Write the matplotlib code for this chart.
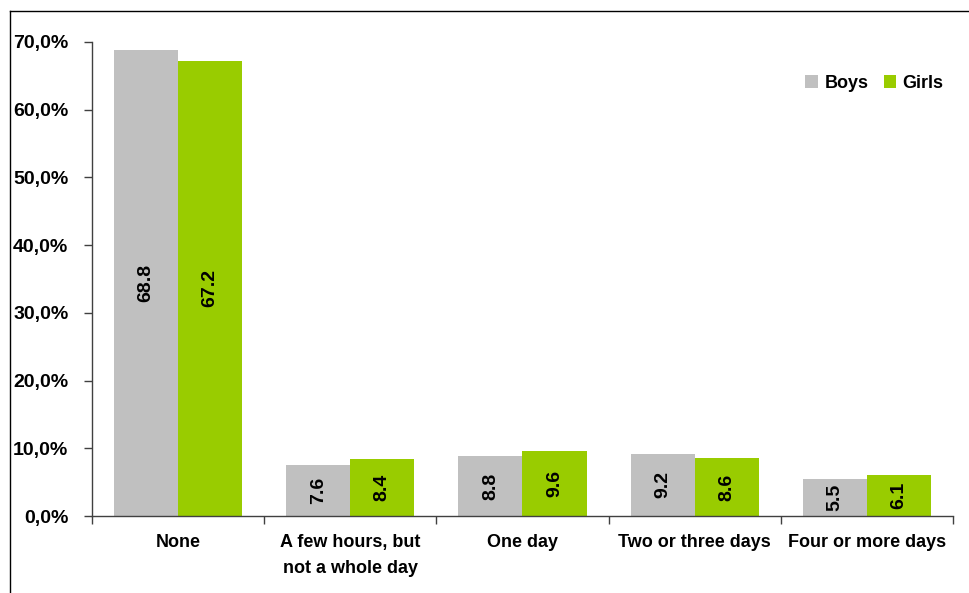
import numpy as np
import matplotlib.pyplot as plt
from matplotlib.lines import Line2D
from matplotlib.ticker import FixedLocator

plt.rcParams['font.family'] = ['Liberation Sans', 'DejaVu Sans']
plt.rcParams['font.weight'] = 'bold'

categories = ['None', 'A few hours, but\nnot a whole day', 'One day',
              'Two or three days', 'Four or more days']
boys = [68.8, 7.6, 8.8, 9.2, 5.5]
girls = [67.2, 8.4, 9.6, 8.6, 6.1]
series = ['Boys', 'Girls']
colors = ['#C0C0C0', '#99CC00']

fig = plt.figure(figsize=(9.69, 5.93), dpi=100)
ax = fig.add_axes([0.0949, 0.1298, 0.8886, 0.7994])

x = np.arange(len(categories))
w = 0.372
for vals, off, col, name in zip([boys, girls], [-w / 2, w / 2], colors, series):
    bars = ax.bar(x + off, vals, width=w, color=col, label=name)
    for b, v in zip(bars, vals):
        ax.text(b.get_x() + b.get_width() / 2, v / 2, f'{v:.1f}',
                rotation=90, ha='center', va='center',
                fontsize=14, fontweight='bold', color='black')

ax.set_xlim(-0.5, len(categories) - 0.5)
ax.set_ylim(0, 70)
ax.set_yticks(np.arange(0, 71, 10))
ax.set_yticklabels([f'{t:.1f}%'.replace('.', ',') for t in range(0, 71, 10)],
                   fontsize=14, fontweight='bold')

ax.set_xticks(x)
ax.set_xticklabels(categories, fontsize=13, fontweight='bold', linespacing=1.65)
ax.xaxis.set_minor_locator(FixedLocator(np.arange(-0.5, len(categories), 1)))
ax.tick_params(axis='x', which='major', length=0, pad=13)
ax.tick_params(axis='x', which='minor', length=6, width=1, color='#404040')
ax.tick_params(axis='y', length=6, width=1, color='#404040', pad=11)

for s in ['top', 'right']:
    ax.spines[s].set_visible(False)
for s in ['left', 'bottom']:
    ax.spines[s].set_color('#404040')
    ax.spines[s].set_linewidth(1)

ax.legend(loc='upper right', bbox_to_anchor=(1.008, 0.965), ncol=2, frameon=False,
          handlelength=0.7, handleheight=0.7, handletextpad=0.35,
          columnspacing=0.85, prop={'size': 13, 'weight': 'bold'})

# outer frame lines (left and top)
fig.add_artist(Line2D([10 / 969, 10 / 969], [0, 1 - 11 / 593],
                      transform=fig.transFigure, color='black', lw=1))
fig.add_artist(Line2D([10 / 969, 1], [1 - 11 / 593, 1 - 11 / 593],
                      transform=fig.transFigure, color='black', lw=1))

fig.savefig('out.png', dpi=100)
